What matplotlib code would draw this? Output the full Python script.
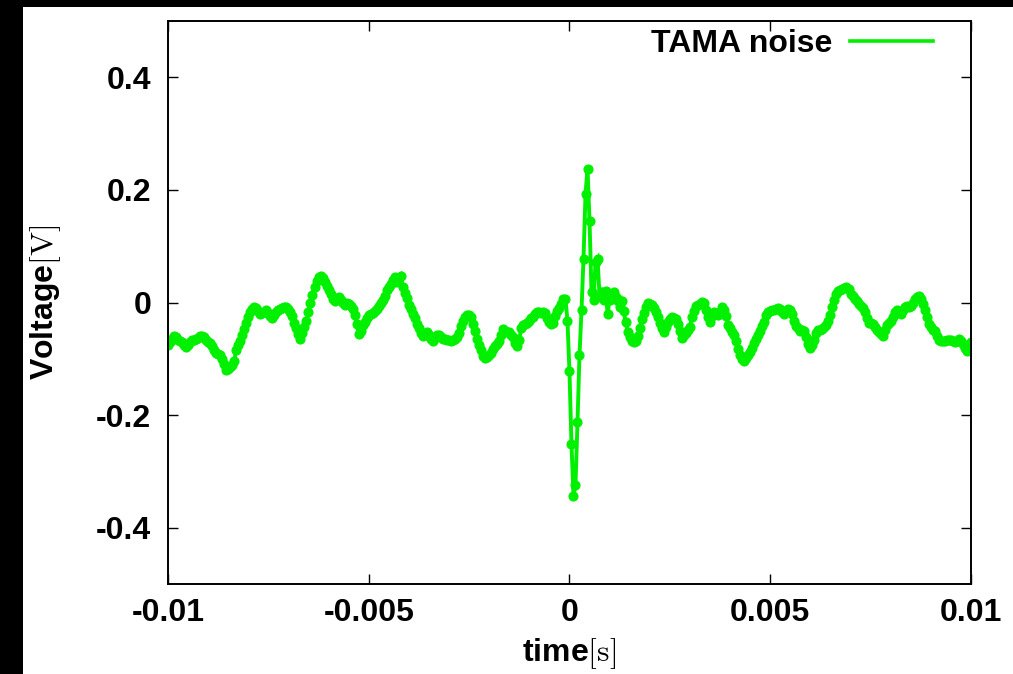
import numpy as np
import matplotlib
matplotlib.use("Agg")
import matplotlib.pyplot as plt
from matplotlib.lines import Line2D
from matplotlib.patches import Rectangle

plt.rcParams['font.family'] = ['Liberation Sans', 'DejaVu Sans']
plt.rcParams['font.weight'] = 'bold'
plt.rcParams['mathtext.fontset'] = 'cm'

# sampled noise trace, 5e-5 s steps from -0.01 to 0.01 s
t_start = -0.01
t_step = 5e-5
voltage = [
    -0.076, -0.070, -0.064, -0.060, -0.061, -0.066, -0.068, -0.070, -0.075, -0.079,
    -0.076, -0.071, -0.067, -0.066, -0.064, -0.063, -0.060, -0.059, -0.062, -0.067,
    -0.070, -0.072, -0.077, -0.084, -0.090, -0.092, -0.093, -0.100, -0.110, -0.120,
    -0.118, -0.115, -0.111, -0.103, -0.085, -0.075, -0.068, -0.058, -0.047, -0.036,
    -0.026, -0.017, -0.011, -0.008, -0.010, -0.015, -0.020, -0.019, -0.016, -0.014,
    -0.018, -0.024, -0.028, -0.022, -0.016, -0.013, -0.012, -0.010, -0.008, -0.008,
    -0.011, -0.017, -0.024, -0.036, -0.046, -0.056, -0.064, -0.055, -0.043, -0.033,
    -0.017, -0.001, 0.013, 0.027, 0.038, 0.045, 0.048, 0.044, 0.037, 0.030,
    0.022, 0.015, 0.006, 0.002, 0.006, 0.009, 0.005, -0.001, -0.004, 0.000,
    -0.002, -0.007, -0.012, -0.022, -0.038, -0.056, -0.050, -0.040, -0.034, -0.028,
    -0.023, -0.021, -0.018, -0.015, -0.012, -0.006, 0.000, 0.005, 0.012, 0.022,
    0.027, 0.033, 0.040, 0.045, 0.037, 0.043, 0.048, 0.027, 0.017, 0.008,
    -0.004, -0.012, -0.021, -0.028, -0.038, -0.046, -0.054, -0.060, -0.057, -0.053,
    -0.058, -0.064, -0.068, -0.063, -0.057, -0.058, -0.062, -0.065, -0.064, -0.066,
    -0.067, -0.068, -0.066, -0.064, -0.062, -0.054, -0.041, -0.032, -0.025, -0.022,
    -0.023, -0.026, -0.038, -0.051, -0.064, -0.075, -0.085, -0.095, -0.099, -0.097,
    -0.094, -0.089, -0.083, -0.078, -0.074, -0.069, -0.058, -0.047, -0.050, -0.052,
    -0.053, -0.057, -0.062, -0.072, -0.078, -0.066, -0.045, -0.040, -0.039, -0.036,
    -0.032, -0.028, -0.025, -0.021, -0.017, -0.016, -0.018, -0.016, -0.018, -0.027,
    -0.034, -0.038, -0.036, -0.024, -0.015, -0.010, -0.003, 0.006, 0.007,
    -0.032, -0.122, -0.251, -0.343, -0.324, -0.213, -0.094, -0.014, 0.078, 0.193,
    0.238, 0.144, 0.018, 0.004, 0.072, 0.078, 0.010, 0.018, 0.005, 0.021,
    -0.020, 0.005, 0.015, 0.018, 0.010, 0.002, -0.008, 0.002, -0.015, -0.035, -0.052,
    -0.062, -0.068, -0.070, -0.069, -0.060, -0.045, -0.030, -0.018, -0.008, -0.001,
    -0.002, -0.005, -0.010, -0.016, -0.026, -0.036, -0.046, -0.053, -0.044, -0.035,
    -0.029, -0.026, -0.027, -0.030, -0.038, -0.050, -0.063, -0.058, -0.054, -0.049,
    -0.044, -0.025, -0.015, -0.007, -0.004, -0.002, 0.001, -0.001, -0.014, -0.025,
    -0.034, -0.024, -0.017, -0.020, -0.023, -0.016, -0.008, -0.014, -0.024, -0.040,
    -0.045, -0.052, -0.058, -0.068, -0.083, -0.094, -0.100, -0.103, -0.098, -0.093,
    -0.087, -0.080, -0.072, -0.065, -0.058, -0.050, -0.042, -0.034, -0.022, -0.016,
    -0.015, -0.014, -0.013, -0.012, -0.010, -0.012, -0.017, -0.020, -0.015, -0.011,
    -0.013, -0.020, -0.032, -0.042, -0.046, -0.050, -0.048, -0.050, -0.062, -0.073,
    -0.081, -0.076, -0.066, -0.054, -0.049, -0.048, -0.047, -0.044, -0.040, -0.033,
    -0.022, -0.008, 0.005, 0.015, 0.020, 0.022, 0.024, 0.026, 0.027, 0.024,
    0.016, 0.011, 0.006, 0.002, -0.003, -0.007, -0.009, -0.016, -0.028, -0.036,
    -0.037, -0.038, -0.043, -0.048, -0.052, -0.056, -0.059, -0.048, -0.040, -0.036,
    -0.032, -0.025, -0.017, -0.014, -0.017, -0.020, -0.013, -0.008, -0.007, -0.008,
    -0.006, -0.001, 0.006, 0.010, 0.012, 0.007, -0.002, -0.013, -0.025, -0.038,
    -0.044, -0.048, -0.051, -0.060, -0.067, -0.069, -0.068, -0.068, -0.067, -0.066,
    -0.067, -0.069, -0.070, -0.068, -0.065, -0.068, -0.073, -0.081, -0.086, -0.080,
    -0.070,
]
time = t_start + t_step * np.arange(len(voltage))

x_ticks = [-0.01, -0.005, 0, 0.005, 0.01]
x_ticklabels = ['-0.01', '-0.005', '0', '0.005', '0.01']
y_ticks = [-0.4, -0.2, 0, 0.2, 0.4]
y_ticklabels = ['-0.4', '-0.2', '0', '0.2', '0.4']

green = '#00f000'

fig = plt.figure(figsize=(10.13, 6.74), dpi=100, facecolor='black')
# white page area (screenshot has black edges on top and left)
page = Rectangle((0.0227, 0), 1.0, 0.9896, transform=fig.transFigure,
                 facecolor='white', edgecolor='none', zorder=-10)
fig.add_artist(page)

ax = fig.add_axes([0.1658, 0.1335, 0.7927, 0.8353])
ax.plot(time, voltage, color=green, lw=2.8, marker='o', ms=6.3,
        mec=green, mfc=green, solid_joinstyle='miter')

ax.set_xlim(-0.01, 0.01)
ax.set_ylim(-0.5, 0.5)
ax.set_xticks(x_ticks)
ax.set_xticklabels(x_ticklabels)
ax.set_yticks(y_ticks)
ax.set_yticklabels(y_ticklabels)
ax.tick_params(direction='in', length=7, width=1.0, top=True, right=True,
               labelsize=23, colors='black')
ax.tick_params(axis='x', pad=10)
ax.tick_params(axis='y', pad=12)
for sp in ax.spines.values():
    sp.set_linewidth(1.4)

ax.set_xlabel(r'time$\mathrm{[s]}$', fontsize=23, fontweight='bold', labelpad=6)
ax.set_ylabel(r'Voltage$\mathrm{[V]}$', fontsize=23, fontweight='bold', labelpad=24)

handle = Line2D([], [], color=green, lw=2.6)
ax.legend([handle], ['TAMA noise'], loc='upper right', frameon=False,
          markerfirst=False, fontsize=23, handlelength=2.6, handletextpad=0.55,
          borderaxespad=0.2, bbox_to_anchor=(0.977, 1.02))

fig.savefig('out.png', dpi=100, facecolor=fig.get_facecolor())
